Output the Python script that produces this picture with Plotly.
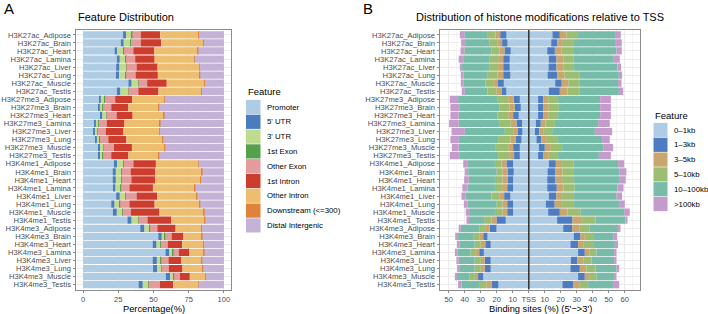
import plotly.graph_objects as go

# ---------------- data ----------------
samples = [
    "H3K27ac_Adipose", "H3K27ac_Brain", "H3K27ac_Heart", "H3K27ac_Lamina",
    "H3K27ac_Liver", "H3K27ac_Lung", "H3K27ac_Muscle", "H3K27ac_Testis",
    "H3K27me3_Adipose", "H3K27me3_Brain", "H3K27me3_Heart", "H3K27me3_Lamina",
    "H3K27me3_Liver", "H3K27me3_Lung", "H3K27me3_Muscle", "H3K27me3_Testis",
    "H3K4me1_Adipose", "H3K4me1_Brain", "H3K4me1_Heart", "H3K4me1_Lamina",
    "H3K4me1_Liver", "H3K4me1_Lung", "H3K4me1_Muscle", "H3K4me1_Testis",
    "H3K4me3_Adipose", "H3K4me3_Brain", "H3K4me3_Heart", "H3K4me3_Lamina",
    "H3K4me3_Liver", "H3K4me3_Lung", "H3K4me3_Muscle", "H3K4me3_Testis",
]

# Panel A: genomic feature distribution (%)
features = ["Promoter", "5' UTR", "3' UTR", "1st Exon", "Other Exon",
            "1st Intron", "Other Intron", "Downstream (<=300)", "Distal Intergenic"]
promoter = [28.4, 26.8, 22.4, 24.0, 23.5, 23.3, 32.2, 24.0,
            11.9, 11.0, 12.6, 8.2, 7.5, 8.9, 11.2, 11.2,
            21.9, 21.0, 21.0, 21.2, 23.5, 20.0, 21.2, 31.5,
            40.6, 53.4, 49.4, 58.5, 49.4, 49.7, 58.7, 39.4]
utr5 = [2.1, 2.1, 1.8, 2.1, 2.4, 2.3, 2.3, 2.6,
        0.7, 0.9, 1.2, 0.9, 0.9, 0.9, 0.9, 0.9,
        2.3, 2.3, 2.3, 1.9, 2.6, 2.4, 2.8, 3.0,
        3.0, 2.5, 2.8, 2.8, 3.0, 3.0, 3.1, 3.0]
utr3 = [4.2, 4.8, 4.6, 4.1, 4.6, 4.6, 4.6, 5.3,
        2.7, 2.0, 2.5, 1.8, 1.6, 2.0, 2.1, 1.8,
        4.4, 3.9, 3.9, 3.6, 3.9, 3.6, 3.9, 4.6,
        3.7, 2.1, 2.7, 2.5, 2.8, 2.7, 2.5, 3.9]
exon1 = [0.3] * 32
other_exon = [6.0, 7.0, 6.6, 6.5, 7.2, 6.8, 6.1, 7.0,
              7.2, 5.8, 7.2, 5.6, 5.8, 5.8, 7.4, 5.8,
              6.8, 6.3, 6.8, 5.9, 7.7, 6.6, 5.8, 6.3,
              5.1, 4.6, 4.9, 3.9, 5.1, 5.1, 4.2, 7.9]
intron1 = [13.8, 14.5, 14.9, 13.8, 14.9, 15.8, 13.9, 14.4,
           12.2, 12.2, 11.4, 12.6, 12.6, 12.9, 12.8, 12.2,
           16.0, 17.5, 17.0, 16.7, 14.7, 17.9, 20.3, 16.8,
           13.0, 8.4, 10.3, 7.5, 9.1, 9.8, 7.0, 9.6]
other_intron = [27.1, 29.9, 30.8, 28.1, 29.5, 29.7, 26.7, 30.4,
                22.6, 21.5, 22.2, 25.2, 25.4, 25.7, 23.2, 21.5,
                29.9, 33.1, 32.0, 29.7, 28.0, 32.0, 31.5, 23.8,
                18.3, 13.1, 15.0, 10.3, 14.5, 14.3, 11.0, 17.5]
downstream = [0.4] * 32
distal = [17.7, 14.2, 18.2, 20.7, 17.2, 16.8, 13.5, 15.6,
          42.0, 45.9, 42.2, 45.0, 45.5, 43.1, 41.7, 45.9,
          18.0, 15.2, 16.3, 20.3, 18.9, 16.8, 13.8, 13.3,
          15.6, 15.2, 14.2, 13.8, 15.4, 14.7, 12.8, 18.0]
feature_values = [promoter, utr5, utr3, exon1, other_exon, intron1,
                  other_intron, downstream, distal]
feature_colors = ["#AECDE5", "#4B7CBE", "#BEDC90", "#55A04A", "#E39B9B",
                  "#CD3D2E", "#EDBE6F", "#E0823A", "#C5B3D7"]

# Panel B: distance to TSS (%), upstream (5') and downstream (3')
dist_bins = ["0\u20131kb", "1\u20133kb", "3\u20135kb", "5\u201310kb", "10\u2013100kb", ">100kb"]
up_0_1 = [14.0, 13.3, 11.3, 11.9, 11.9, 11.5, 15.6, 14.0,
          5.6, 5.0, 6.3, 4.2, 4.0, 4.6, 5.6, 5.6,
          9.8, 9.4, 9.8, 9.8, 11.5, 9.8, 9.8, 14.4,
          20.2, 25.8, 23.8, 28.1, 23.8, 23.8, 28.5, 19.0]
up_1_3 = [3.9, 3.4, 3.9, 4.1, 4.1, 4.5, 4.0, 3.1,
          3.8, 3.8, 3.5, 3.5, 3.1, 3.7, 4.2, 3.6,
          4.2, 3.9, 3.5, 3.7, 3.9, 3.7, 3.7, 5.8,
          4.2, 2.7, 3.4, 2.9, 3.7, 3.7, 3.2, 4.3]
up_3_5 = [2.9, 2.7, 3.1, 3.2, 3.2, 3.6, 2.7, 3.1,
          3.5, 3.1, 3.1, 3.6, 2.7, 3.2, 3.1, 3.1,
          3.1, 3.2, 3.2, 3.2, 3.1, 3.0, 3.0, 3.1,
          2.9, 2.5, 2.9, 2.1, 2.5, 2.5, 2.0, 3.2]
up_5_10 = [4.8, 5.0, 5.2, 5.2, 5.6, 6.0, 4.8, 5.6,
           6.9, 6.6, 6.7, 6.8, 5.2, 7.7, 7.7, 6.9,
           4.1, 3.7, 4.7, 4.5, 4.8, 3.7, 4.7, 4.6,
           3.7, 3.8, 3.7, 3.4, 3.8, 3.8, 3.2, 4.1]
up_10_100 = [14.6, 15.4, 16.7, 16.6, 16.9, 15.2, 13.5, 14.2,
             24.4, 25.0, 24.2, 25.7, 25.0, 24.5, 23.2, 24.3,
             17.3, 17.7, 16.3, 17.1, 16.1, 18.1, 16.1, 10.0,
             11.5, 9.4, 9.4, 8.1, 10.0, 9.7, 8.3, 11.5]
up_100 = [2.9, 2.5, 2.5, 2.8, 1.4, 1.7, 1.9, 1.9,
          5.2, 5.5, 5.2, 6.0, 8.3, 5.3, 4.3, 5.9,
          2.5, 2.1, 2.9, 3.2, 2.7, 2.3, 2.1, 1.1,
          1.3, 1.8, 1.7, 1.6, 1.4, 1.3, 1.0, 2.1]
down_0_1 = [14.8, 14.0, 11.5, 12.5, 12.3, 11.7, 16.5, 12.5,
            5.8, 5.8, 5.8, 4.4, 3.8, 4.8, 6.3, 5.8,
            12.5, 11.7, 11.5, 11.5, 12.5, 10.6, 12.1, 17.7,
            21.5, 28.1, 26.0, 30.8, 26.3, 26.0, 30.8, 21.0]
down_1_3 = [4.6, 3.9, 4.8, 4.8, 5.0, 6.2, 4.1, 6.9,
            3.2, 3.4, 3.4, 3.1, 2.7, 3.1, 3.7, 3.4,
            4.4, 5.0, 5.2, 6.0, 4.6, 5.6, 7.3, 9.6,
            5.6, 4.2, 4.8, 4.2, 4.1, 5.9, 4.2, 6.7]
down_3_5 = [4.1, 3.4, 4.1, 4.2, 4.2, 4.4, 4.2, 4.8,
            3.1, 3.3, 3.3, 2.9, 2.9, 3.4, 3.8, 3.3,
            3.9, 4.3, 4.1, 4.2, 3.7, 4.6, 4.8, 6.0,
            4.4, 2.7, 3.6, 3.1, 3.6, 4.1, 2.7, 4.2]
down_5_10 = [6.7, 6.4, 7.3, 6.6, 6.8, 9.2, 7.1, 7.7,
             6.2, 6.3, 5.8, 5.9, 5.2, 7.0, 7.0, 5.8,
             7.3, 6.7, 7.5, 7.0, 7.5, 7.5, 8.3, 8.4,
             6.6, 5.2, 5.8, 4.2, 5.2, 5.7, 4.6, 5.2]
down_10_100 = [24.2, 26.7, 27.1, 25.0, 27.1, 24.8, 23.9, 24.4,
               26.3, 25.8, 26.3, 27.0, 26.7, 27.5, 25.7, 25.5,
               27.7, 28.8, 28.6, 26.7, 26.5, 28.6, 27.1, 18.7,
               17.7, 12.9, 13.6, 11.0, 14.1, 13.1, 11.0, 15.6]
down_100 = [3.1, 3.7, 3.3, 3.8, 2.3, 2.0, 2.1, 2.7,
            6.7, 6.7, 6.7, 7.3, 10.8, 4.8, 6.2, 7.5,
            3.8, 4.5, 3.7, 3.8, 3.5, 3.1, 3.5, 1.3,
            1.5, 2.1, 2.0, 1.5, 1.5, 1.7, 1.5, 3.8]
upstream_values = [up_0_1, up_1_3, up_3_5, up_5_10, up_10_100, up_100]
downstream_values = [down_0_1, down_1_3, down_3_5, down_5_10, down_10_100, down_100]
dist_colors = ["#AECDE5", "#4E7CC0", "#C9A66D", "#9BBE72", "#76BCA9", "#C59BCC"]

tss_ticks = [-50, -40, -30, -20, -10, 0, 10, 20, 30, 40, 50, 60]
tss_ticktext = ["50", "40", "30", "20", "10", "TSS", "10", "20", "30", "40", "50", "60"]

# ---------------- figure ----------------
W, H = 708, 314
FONT = "Liberation Sans, Arial, sans-serif"
TXT = "#4D4D4D"


def px(x):
    return x / W


def py(y):
    return 1 - y / H


fig = go.Figure()

for name, vals, col in zip(features, feature_values, feature_colors):
    fig.add_trace(go.Bar(
        y=samples, x=vals, orientation="h", name=name,
        marker=dict(color=col, line=dict(width=0)),
        xaxis="x", yaxis="y", showlegend=False,
    ))

for name, up, down, col in zip(dist_bins, upstream_values, downstream_values, dist_colors):
    fig.add_trace(go.Bar(
        y=samples, x=[-v for v in up], orientation="h", name=name,
        customdata=up, hovertemplate="%{y}<br>" + name + ": %{customdata}%<extra></extra>",
        marker=dict(color=col, line=dict(width=0)),
        xaxis="x2", yaxis="y2", showlegend=False,
    ))
    fig.add_trace(go.Bar(
        y=samples, x=down, orientation="h", name=name,
        marker=dict(color=col, line=dict(width=0)),
        xaxis="x2", yaxis="y2", showlegend=False,
    ))

ydom = [py(289.5), py(30)]
cat_order = list(reversed(samples))

axis_common = dict(
    showline=True, mirror=True, linecolor="#8C8C8C", linewidth=1,
    ticks="outside", ticklen=2.5, tickcolor="#8C8C8C", tickwidth=1,
    tickfont=dict(family=FONT, size=7.6, color=TXT),
    gridcolor="#EBEBEB", gridwidth=1, zeroline=False,
)

yaxis_common = dict(
    domain=ydom, type="category", categoryorder="array",
    categoryarray=cat_order, range=[-0.6, 31.6],
    tickmode="array", tickvals=samples, ticktext=samples,
)

fig.update_layout(
    width=W, height=H,
    margin=dict(l=0, r=0, t=0, b=0),
    paper_bgcolor="white", plot_bgcolor="white",
    barmode="relative", bargap=0.1,
    font=dict(family=FONT, color=TXT),
    xaxis=dict(domain=[px(76), px(231)], range=[-5, 105],
               tickvals=[0, 25, 50, 75, 100], anchor="y",
               minor=dict(tickvals=[12.5, 37.5, 62.5, 87.5], showgrid=True,
                          gridcolor="#F3F3F3", ticks=""),
               **axis_common),
    yaxis=dict(anchor="x", **yaxis_common, **axis_common),
    xaxis2=dict(domain=[px(440), px(640)], range=[-55.5, 69.5],
                tickvals=tss_ticks, ticktext=tss_ticktext, anchor="y2",
                minor=dict(dtick=5, tick0=5, showgrid=True,
                           gridcolor="#F3F3F3", ticks=""),
                **axis_common),
    yaxis2=dict(anchor="x2", **yaxis_common, **axis_common),
)

# TSS reference line
fig.add_shape(type="line", xref="x2", yref="y2 domain", x0=0, x1=0, y0=0, y1=1,
              line=dict(color="#3A3A3A", width=1.6), layer="above")

ann = []
# panel letters
ann.append(dict(text="A", x=px(2), y=py(9), xanchor="left", yanchor="middle",
                font=dict(size=15, color="black")))
ann.append(dict(text="B", x=px(361), y=py(9), xanchor="left", yanchor="middle",
                font=dict(size=15, color="black")))
# titles
ann.append(dict(text="Feature Distribution", x=px(76), y=py(17), xanchor="left",
                yanchor="middle", font=dict(size=11, color="black")))
ann.append(dict(text="Distribution of histone modifications relative to TSS",
                x=px(540), y=py(17), xanchor="center", yanchor="middle",
                font=dict(size=11, color="black")))
# axis titles
ann.append(dict(text="Percentage(%)", x=px(153.5), y=py(309), xanchor="center",
                yanchor="middle", font=dict(size=9.3, color="black")))
ann.append(dict(text="Binding sites (%) (5'\u2212>3')", x=px(540), y=py(309),
                xanchor="center", yanchor="middle", font=dict(size=9.3, color="black")))

# legend A (drawn manually)
ann.append(dict(text="Feature", x=px(246), y=py(92), xanchor="left", yanchor="middle",
                font=dict(size=9.5, color="black")))
shapes = []
for i, (name, col) in enumerate(zip(features, feature_colors)):
    yc = 107 + i * 14.8
    shapes.append(dict(type="rect", xref="paper", yref="paper",
                       x0=px(246), x1=px(260.5), y0=py(yc + 7.1), y1=py(yc - 7.1),
                       fillcolor=col, line=dict(width=0)))
    ann.append(dict(text=name, x=px(265), y=py(yc), xanchor="left", yanchor="middle",
                    font=dict(size=7.8, color="black")))

# legend B (drawn manually)
ann.append(dict(text="Feature", x=px(653), y=py(115), xanchor="left", yanchor="middle",
                font=dict(size=9.5, color="black")))
for i, (name, col) in enumerate(zip(dist_bins, dist_colors)):
    yc = 130 + i * 14.8
    shapes.append(dict(type="rect", xref="paper", yref="paper",
                       x0=px(653.5), x1=px(667.5), y0=py(yc + 7.1), y1=py(yc - 7.1),
                       fillcolor=col, line=dict(width=0)))
    ann.append(dict(text=name, x=px(672), y=py(yc), xanchor="left", yanchor="middle",
                    font=dict(size=7.8, color="black")))

for a in ann:
    a.update(xref="paper", yref="paper", showarrow=False)
    a["font"]["family"] = FONT

fig.update_layout(annotations=ann, shapes=list(fig.layout.shapes) + shapes)

fig.write_html("out.html")
